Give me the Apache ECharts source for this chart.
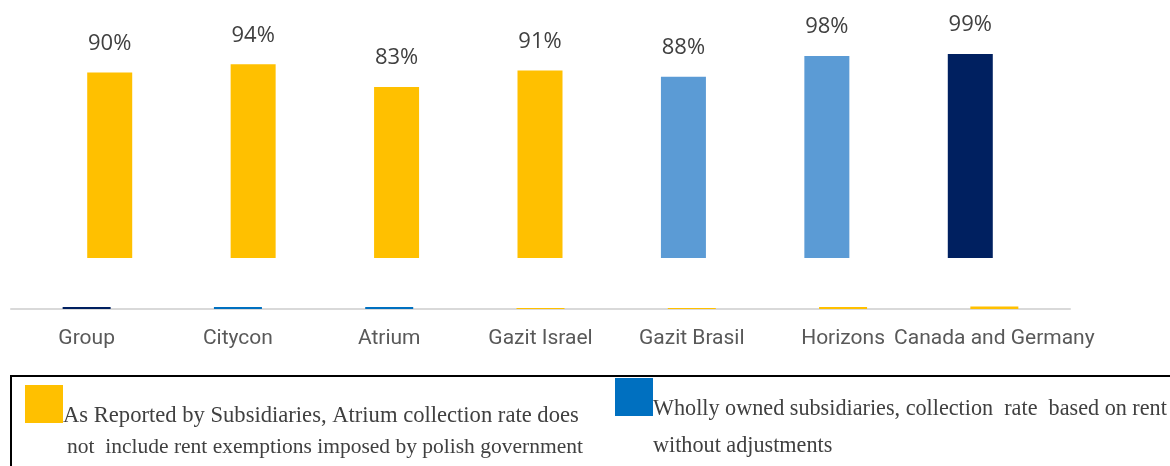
<!DOCTYPE html>
<html>
<head>
<meta charset="utf-8">
<script src="https://cdn.jsdelivr.net/npm/echarts@6/dist/echarts.min.js"></script>
<style>
  html, body { margin: 0; padding: 0; background: #fff; }
  #chart { width: 1170px; height: 466px; }
</style>
</head>
<body>
<div id="chart"></div>
<script>
// 数据
var categories = ['Group', 'Citycon', 'Atrium', 'Gazit Israel', 'Gazit Brasil', 'Horizons', 'Canada and Germany'];
var collectionRates = [90, 94, 83, 91, 88, 98, 99];
var baseMarks = [1, 1, 1, 0.5, 0.5, 1, 1.2];

var rateColors = ['#FFC000', '#FFC000', '#FFC000', '#FFC000', '#5B9BD5', '#5B9BD5', '#002060'];
var markColors = ['#002060', '#0070C0', '#0070C0', '#FFC000', '#FFC000', '#FFC000', '#FFC000'];

var myChart = echarts.init(document.getElementById('chart'));

var option = {
    animation: false,
    grid: [
        { left: 38, right: 128, top: 52, bottom: 208 },
        { left: 11, right: 100, top: 103, bottom: 157 }
    ],
    xAxis: [
        {
            gridIndex: 0, type: 'category', data: categories, show: false
        },
        {
            gridIndex: 1, type: 'category', data: categories,
            axisLine: { lineStyle: { color: '#D9D9D9', width: 2 } },
            axisTick: { show: false },
            axisLabel: { color: '#595959', fontFamily: 'Roboto', fontSize: 21, margin: 19, interval: 0 }
        }
    ],
    yAxis: [
        { gridIndex: 0, type: 'value', min: 0, max: 100, show: false },
        { gridIndex: 1, type: 'value', min: 0, max: 100, show: false }
    ],
    series: [
        {
            name: 'rate',
            type: 'bar',
            xAxisIndex: 0, yAxisIndex: 0,
            barWidth: 45,
            data: collectionRates.map(function (v, i) {
                return { value: v, itemStyle: { color: rateColors[i] } };
            }),
            label: {
                show: true, position: 'top', distance: 18,
                formatter: '{c}%',
                color: '#404040', fontFamily: 'Open Sans', fontSize: 22
            }
        },
        {
            name: 'base',
            type: 'bar',
            xAxisIndex: 1, yAxisIndex: 1,
            barWidth: 48,
            data: baseMarks.map(function (v, i) {
                return { value: v, itemStyle: { color: markColors[i] } };
            })
        }
    ],
    // 图例框
    graphic: [
        {
            type: 'rect', silent: true,
            shape: { x: 11, y: 376, width: 1200, height: 200 },
            style: { fill: 'none', stroke: '#000', lineWidth: 2 }
        },
        { type: 'rect', shape: { x: 25, y: 385, width: 38, height: 38 }, style: { fill: '#FFC000' } },
        { type: 'rect', shape: { x: 615, y: 378, width: 38, height: 38 }, style: { fill: '#0070C0' } },
        {
            type: 'text',
            style: { x: 63, y: 416, text: 'As Reported by Subsidiaries, Atrium collection rate does',
                font: '22.6px "Liberation Serif"', fill: '#404040', textVerticalAlign: 'middle' }
        },
        {
            type: 'text',
            style: { x: 67, y: 447, text: 'not  include rent exemptions imposed by polish government',
                font: '21.5px "Liberation Serif"', fill: '#404040', textVerticalAlign: 'middle' }
        },
        {
            type: 'text',
            style: { x: 653, y: 409, text: 'Wholly owned subsidiaries, collection  rate  based on rent',
                font: '22.2px "Liberation Serif"', fill: '#404040', textVerticalAlign: 'middle' }
        },
        {
            type: 'text',
            style: { x: 653, y: 446, text: 'without adjustments',
                font: '22.2px "Liberation Serif"', fill: '#404040', textVerticalAlign: 'middle' }
        }
    ]
};

myChart.setOption(option);
</script>
</body>
</html>
